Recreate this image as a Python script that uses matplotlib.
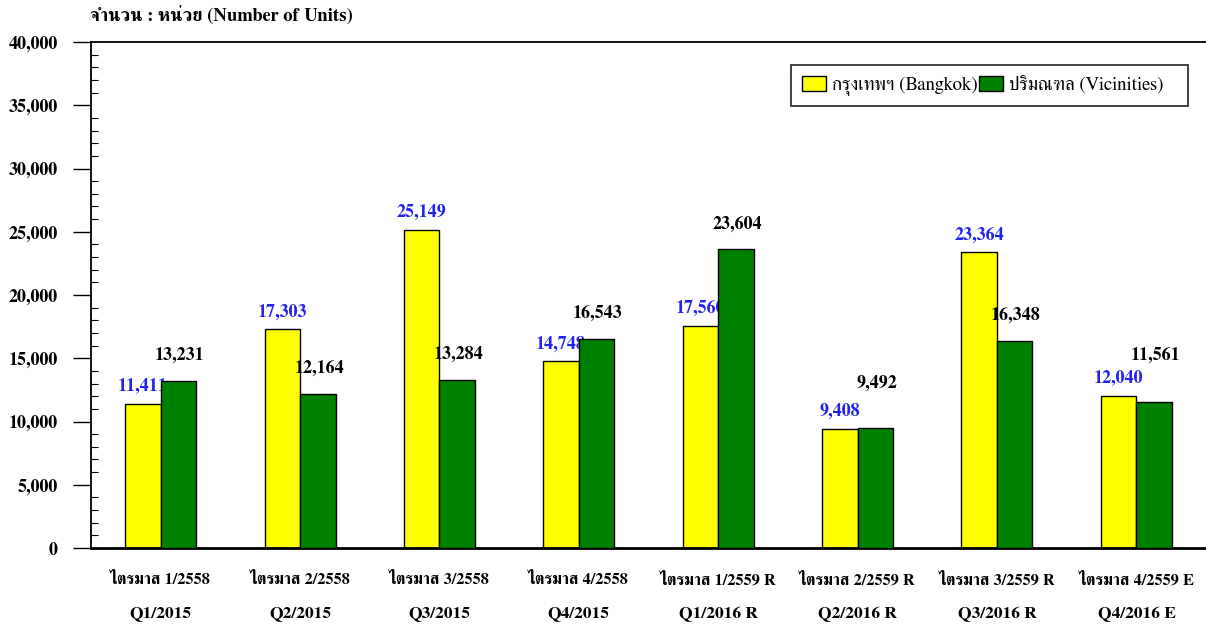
import matplotlib
matplotlib.use("Agg")
import matplotlib.pyplot as plt
from matplotlib.ticker import MultipleLocator, FuncFormatter
from matplotlib.patches import Patch

# data
quarters_th = ["ไตรมาส 1/2558", "ไตรมาส 2/2558", "ไตรมาส 3/2558", "ไตรมาส 4/2558",
               "ไตรมาส 1/2559 R", "ไตรมาส 2/2559 R", "ไตรมาส 3/2559 R", "ไตรมาส 4/2559 E"]
quarters_en = ["Q1/2015", "Q2/2015", "Q3/2015", "Q4/2015",
               "Q1/2016 R", "Q2/2016 R", "Q3/2016 R", "Q4/2016 E"]
bangkok = [11411, 17303, 25149, 14748, 17560, 9408, 23364, 12040]
vicinities = [13231, 12164, 13284, 16543, 23604, 9492, 16348, 11561]

# extra lift (points) for a couple of vicinities labels, as placed in the original
vic_nudge = [0, 0, 0, 0, 0, 14, 0, 15]

plt.rcParams['font.family'] = ['FreeSerif', 'DejaVu Serif']

fig = plt.figure(figsize=(12.06, 6.26), dpi=100)
ax = fig.add_axes([0.0755, 0.1246, 0.9245, 0.8083])

w = 0.255
x = list(range(len(bangkok)))
# yellow bars < blue labels < green bars < black labels
ax.bar([i - w / 2 for i in x], bangkok, width=w, color="#ffff00",
       edgecolor="black", linewidth=1, zorder=2)
ax.bar([i + w / 2 for i in x], vicinities, width=w, color="#008000",
       edgecolor="black", linewidth=1, zorder=4)

for i in x:
    ax.annotate(f"{bangkok[i]:,}", (i - w / 2, bangkok[i]), xytext=(0, 12.5),
                textcoords="offset points", ha="center", va="center",
                color="#2323ee", fontsize=13, fontweight="bold", zorder=3)
    ax.annotate(f"{vicinities[i]:,}", (i + w / 2, vicinities[i]),
                xytext=(1, 18.5 + vic_nudge[i]), textcoords="offset points",
                ha="center", va="center", color="black", fontsize=13,
                fontweight="bold", zorder=5)

ax.set_xlim(-0.5, len(x) - 0.5)
ax.set_ylim(0, 40000)
ax.yaxis.set_major_locator(MultipleLocator(5000))
ax.yaxis.set_minor_locator(MultipleLocator(1000))
ax.yaxis.set_major_formatter(FuncFormatter(lambda v, p: f"{int(v):,}"))
ax.tick_params(axis="y", which="major", direction="out", length=13, width=1,
               pad=11, labelsize=13)
ax.tick_params(axis="y", which="minor", direction="in", length=5, width=0.8)
for lab in ax.get_yticklabels():
    lab.set_fontweight("bold")

# two-line category labels: Thai quarter on top, English quarter below
ax.set_xticks(x)
ax.set_xticklabels([])
ax.tick_params(axis="x", length=0)
for i in x:
    ax.annotate(quarters_th[i], (i, 0), xycoords=("data", "axes fraction"),
                xytext=(0, -23), textcoords="offset points", ha="center",
                va="center", fontsize=11.8, fontweight="bold")
    ax.annotate(quarters_en[i], (i, 0), xycoords=("data", "axes fraction"),
                xytext=(0, -47.5), textcoords="offset points", ha="center",
                va="center", fontsize=12.5, fontweight="bold")

ax.spines["right"].set_visible(False)
ax.spines["top"].set_linewidth(1.3)
ax.spines["left"].set_linewidth(1.3)
ax.spines["bottom"].set_linewidth(2)

handles = [Patch(facecolor="#ffff00", edgecolor="black", label="กรุงเทพฯ (Bangkok)"),
           Patch(facecolor="#008000", edgecolor="black", label="ปริมณฑล (Vicinities)   ")]
leg = ax.legend(handles=handles, loc="upper right", bbox_to_anchor=(0.984, 0.9545),
                ncol=2, fontsize=13.6, frameon=True, fancybox=False,
                handlelength=1.3, handleheight=0.85, handletextpad=0.3,
                columnspacing=0.05, borderpad=0.55, borderaxespad=0,
                edgecolor="black")
leg.get_frame().set_linewidth(1.3)

fig.text(0.075, 0.975, "จำนวน : หน่วย (Number of Units)", fontsize=13.3,
         fontweight="bold", ha="left", va="center")

fig.savefig("out.png", dpi=100)
